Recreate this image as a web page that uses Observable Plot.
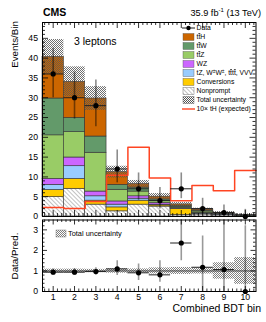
<!DOCTYPE html>
<html><head><meta charset="utf-8">
<script src="https://cdn.jsdelivr.net/npm/d3@7"></script>
<script src="https://cdn.jsdelivr.net/npm/@observablehq/plot@0.6"></script>
<style>
body{margin:0;background:#fff;}
#wrap{position:relative;width:266px;height:322px;overflow:hidden;}
#wrap svg{position:absolute;left:0;}
</style></head><body>
<svg width="0" height="0" style="position:absolute">
<defs>
<pattern id="hatch" width="3" height="3" patternUnits="userSpaceOnUse" patternTransform="rotate(-45)">
<rect width="3" height="3" fill="#fff"/><line x1="0" y1="0" x2="0" y2="3" stroke="#666" stroke-width="0.8"/>
</pattern>
<pattern id="checker" width="2" height="2" patternUnits="userSpaceOnUse">
<rect x="0" y="0" width="1" height="1" fill="#555"/><rect x="1" y="1" width="1" height="1" fill="#555"/>
</pattern>
</defs>
</svg>
<div id="wrap"></div>
<script>
const FONT = "'Liberation Sans', Arial, Helvetica, sans-serif";

// ---------- data ----------
const bins = [1, 2, 3, 4, 5, 6, 7, 8, 9, 10];
const procNames = ["Nonprompt", "Conversions", "tZ, W±W±, tttt, VVV", "WZ", "ttZ", "ttW", "ttH"];
const procColors = ["url(#hatch)", "#ffcc00", "#99ccff", "#cc66ff", "#99cc66", "#639a6a", "#cc6600"];
const nonprompt   = [4.9, 7.0, 3.0, 1.3, 3.0, 2.5, 0.4, 0.5, 0.30, 0.10];
const conversions = [1.8, 2.5, 1.0, 1.0, 1.0, 0.3, 1.5, 0.15, 0.05, 0.02];
const rare        = [1.3, 3.2, 1.1, 0.7, 0.5, 0.2, 0.1, 0.15, 0.15, 0.05];
const wz          = [1.5, 2.2, 1.2, 0.8, 0.6, 0.4, 0.15, 0.1, 0.05, 0.02];
const ttz         = [11.0, 6.4, 9.8, 2.95, 1.2, 0.5, 0.3, 0.35, 0.10, 0.05];
const ttw         = [9.3, 3.6, 4.1, 1.25, 1.0, 0.4, 0.2, 0.25, 0.10, 0.05];
const tth         = [10.5, 9.1, 9.6, 3.2, 0.9, 0.7, 0.4, 0.3, 0.20, 0.12];
const totalUnc    = [4.4, 3.8, 3.0, 1.5, 0.9, 0.8, 0.5, 0.3, 0.3, 0.25];
const dataObs     = [36, 30, 28, 12, 7, 4, 7, 2, 1, 0];
const dataLo      = [30.0, 24.6, 22.7, 8.5, 4.1, 1.9, 4.5, 0.7, 0.2, 0];
const dataHi      = [42.5, 36.5, 34.5, 16.8, 11.0, 7.3, 11.0, 4.6, 2.9, 1.8];
const tH10        = [2.3, 2.0, 3.8, 10.4, 17.5, 9.7, 4.0, 7.8, 6.5, 11.6];
const ratioVal    = [0.94, 0.94, 0.97, 1.10, 0.91, 0.81, 2.36, 1.18, 1.07, 0];
const ratioLo     = [0.80, 0.78, 0.80, 0.78, 0.53, 0.45, 1.50, 0.0, 0.0, 0];
const ratioHi     = [1.10, 1.12, 1.16, 1.50, 1.34, 1.50, 3.8, 2.70, 3.8, 3.2];
const ratioUnc    = [0.09, 0.09, 0.08, 0.11, 0.10, 0.15, 0.17, 0.15, 0.40, 0.65];
const yTicksUpper = [0, 5, 10, 15, 20, 25, 30, 35, 40, 45];
const yTicksLower = [0, 1, 2, 3];
const xTickLabels = ["1", "2", "3", "4", "5", "6", "7", "8", "9", "10"];

// ---------- derived tables ----------
const series = [nonprompt, conversions, rare, wz, ttz, ttw, tth];
const stackRows = [];
procNames.forEach((p, j) => bins.forEach((b, i) => stackRows.push({bin: b, proc: p, v: series[j][i]})));
const totals = bins.map((b, i) => d3.sum(series, s => s[i]));
const obs = bins.map((b, i) => ({bin: b, n: dataObs[i], lo: dataLo[i], hi: dataHi[i],
  tot: totals[i], unc: totalUnc[i], r: ratioVal[i], rlo: ratioLo[i], rhi: ratioHi[i], runc: ratioUnc[i]}));
const stepPts = bins.map((b, i) => ({x: b - 0.5, y: tH10[i]})).concat([{x: bins[bins.length - 1] + 0.5, y: tH10[tH10.length - 1]}]);

// ---------- layout ----------
const W = 266, ML = 42, MR = 10.5;
const FW = W - ML - MR;
const xDom = [0.5, 10.5];
const xMinor = d3.range(3, 53).map(k => k / 5).filter(v => Math.abs(v - Math.round(v)) > 1e-6);

function frameTicks(fh, yMaj, yMin, L, l) {
  const s = {stroke: "#000", strokeWidth: 0.8};
  return [
    Plot.tickY(yMaj, {y: d => d, insetRight: FW - L, ...s}),
    Plot.tickY(yMaj, {y: d => d, insetLeft: FW - L, ...s}),
    Plot.tickY(yMin, {y: d => d, insetRight: FW - l, ...s}),
    Plot.tickY(yMin, {y: d => d, insetLeft: FW - l, ...s}),
    Plot.tickX(bins, {x: d => d, insetTop: fh - L, ...s}),
    Plot.tickX(bins, {x: d => d, insetBottom: fh - L, ...s}),
    Plot.tickX(xMinor, {x: d => d, insetTop: fh - l, ...s}),
    Plot.tickX(xMinor, {x: d => d, insetBottom: fh - l, ...s}),
    Plot.frame({stroke: "#000", strokeWidth: 1})
  ];
}

const styleBase = {background: "transparent", fontFamily: FONT, fontSize: "8.7px", color: "#000"};

// upper panel: frame 22..216
const UH = 222, UMT = 22, UMB = 6;
const upper = Plot.plot({
  width: W, height: UH, marginTop: UMT, marginBottom: UMB, marginLeft: ML, marginRight: MR,
  style: styleBase,
  x: {domain: xDom, axis: null},
  y: {domain: [0, 49], ticks: yTicksUpper, tickFormat: d3.format("d"), tickSize: 0, tickPadding: 4.5, label: null},
  color: {domain: procNames, range: procColors},
  marks: [
    Plot.rectY(stackRows, {x1: d => d.bin - 0.5, x2: d => d.bin + 0.5, y: "v", z: "proc", fill: "proc",
      order: procNames, stroke: "#333", strokeWidth: 0.6}),
    Plot.rect(obs, {x1: d => d.bin - 0.5, x2: d => d.bin + 0.5, y1: d => d.tot - d.unc, y2: d => d.tot + d.unc,
      fill: "url(#checker)", fillOpacity: 0.85}),
    Plot.line(stepPts, {x: "x", y: "y", curve: "step-after", stroke: "#ff4422", strokeWidth: 1.5}),
    Plot.ruleX(obs, {x: "bin", y1: "lo", y2: "hi", stroke: "#000", strokeOpacity: 0.45, strokeWidth: 1.6}),
    Plot.ruleY(obs, {y: "n", x1: d => d.bin - 0.5, x2: d => d.bin + 0.5, stroke: "#222", strokeWidth: 1}),
    Plot.dot(obs, {x: "bin", y: "n", r: 2.6, fill: "#000", stroke: "none"}),
    ...frameTicks(UH - UMT - UMB, yTicksUpper, d3.range(0, 49).filter(v => v % 5 !== 0), 6, 3)
  ]
});

// lower panel: frame 219.5..291
const LT = 212, LH = 110, LMT = 7.5, LMB = 31;
const lower = Plot.plot({
  width: W, height: LH, marginTop: LMT, marginBottom: LMB, marginLeft: ML, marginRight: MR,
  style: styleBase,
  x: {domain: xDom, ticks: bins, tickFormat: (d, i) => xTickLabels[i], tickSize: 0, tickPadding: 2.5, label: null},
  y: {domain: [0, 3.48], ticks: yTicksLower, tickFormat: d3.format("d"), tickSize: 0, tickPadding: 4.5, label: null},
  marks: [
    Plot.rect(obs, {x1: d => d.bin - 0.5, x2: d => d.bin + 0.5, y1: d => 1 - d.runc, y2: d => 1 + d.runc,
      fill: "url(#checker)", fillOpacity: 0.75}),
    Plot.ruleY([1], {stroke: "#444", strokeWidth: 1}),
    Plot.ruleX(obs, {x: "bin", y1: "rlo", y2: "rhi", stroke: "#000", strokeOpacity: 0.4, strokeWidth: 1.6, clip: true}),
    Plot.ruleY(obs, {y: "r", x1: d => d.bin - 0.5, x2: d => d.bin + 0.5, stroke: "#222", strokeWidth: 1}),
    Plot.dot(obs, {x: "bin", y: "r", r: 2.6, fill: "#000", stroke: "none"}),
    ...frameTicks(LH - LMT - LMB, yTicksLower, d3.range(1, 18).map(k => k / 5).filter(v => Math.abs(v - Math.round(v)) > 1e-6), 5, 2.5)
  ]
});

const wrap = document.getElementById("wrap");
lower.style.top = LT + "px";
upper.style.top = "0px";
wrap.appendChild(lower);
wrap.appendChild(upper);

// ---------- annotations & legends ----------
const ov = d3.select(wrap).append("svg").attr("width", W).attr("height", 322)
  .style("top", "0px").attr("font-family", FONT).attr("fill", "#000");

ov.append("text").attr("x", 43).attr("y", 15.5).attr("font-size", 10.5).attr("font-weight", "bold").text("CMS");
const lumi = ov.append("text").attr("x", 261).attr("y", 15.5).attr("font-size", 9.2).attr("text-anchor", "end");
lumi.append("tspan").text("35.9 fb");
lumi.append("tspan").attr("dy", -3.2).attr("font-size", 6).text("-1");
lumi.append("tspan").attr("dy", 3.2).text(" (13 TeV)");
ov.append("text").attr("x", 74).attr("y", 44.5).attr("font-size", 10.5).text("3 leptons");
ov.append("text").attr("transform", "translate(18,21) rotate(-90)").attr("text-anchor", "end").attr("font-size", 9.8).text("Events/Bin");
ov.append("text").attr("transform", "translate(18,256) rotate(-90)").attr("text-anchor", "middle").attr("font-size", 9.8).text("Data/Pred.");
ov.append("text").attr("x", 261).attr("y", 312).attr("text-anchor", "end").attr("font-size", 10.5).text("Combined BDT bin");

// legend (upper)
const legendLabels = [
  [["Data"]],
  [["t"], ["t", "o"], ["H"]],
  [["t"], ["t", "o"], ["W"]],
  [["t"], ["t", "o"], ["Z"]],
  [["WZ"]],
  [["tZ, W"], ["±", "s"], ["W"], ["±", "s"], [", t"], ["t", "o"], ["t"], ["t", "o"], [", VVV"]],
  [["Conversions"]],
  [["Nonprompt"]],
  [["Total uncertainty"]],
  [["10× tH (expected)"]]
];
const legendKinds = ["data", "box", "box", "box", "box", "box", "box", "box", "box", "line"];
const legendFills = [null, procColors[6], procColors[5], procColors[4], procColors[3], procColors[2], procColors[1], procColors[0], "url(#checker)", null];
const LX = 183, LW = 11, ROW0 = 28, ROWSTEP = 9;
legendLabels.forEach((segs, i) => {
  const cy = ROW0 + i * ROWSTEP;
  const k = legendKinds[i];
  if (k === "data") {
    ov.append("line").attr("x1", LX - 1).attr("x2", LX + LW + 1).attr("y1", cy).attr("y2", cy).attr("stroke", "#000").attr("stroke-width", 0.9);
    ov.append("circle").attr("cx", LX + LW / 2).attr("cy", cy).attr("r", 2.2);
  } else if (k === "line") {
    ov.append("line").attr("x1", LX - 1).attr("x2", LX + LW + 1).attr("y1", cy).attr("y2", cy).attr("stroke", "#ff4422").attr("stroke-width", 1.4);
  } else {
    ov.append("rect").attr("x", LX).attr("y", cy - 3.5).attr("width", LW).attr("height", 7)
      .attr("fill", legendFills[i]).attr("stroke", "#555").attr("stroke-width", 0.4);
  }
  const t = ov.append("text").attr("x", LX + LW + 2.5).attr("y", cy + 2.3).attr("font-size", 6.8);
  let shifted = false;
  segs.forEach(([s, f]) => {
    const ts = t.append("tspan").text(s);
    if (f === "o") ts.style("text-decoration", "overline");
    if (f === "s") { ts.attr("dy", shifted ? 0 : -2.3).attr("font-size", 4.8); shifted = true; }
    else if (shifted) { ts.attr("dy", 2.3); shifted = false; }
  });
});

// legend (ratio)
ov.append("rect").attr("x", 56).attr("y", 230).attr("width", 10).attr("height", 7)
  .attr("fill", "url(#checker)").attr("fill-opacity", 0.75).attr("stroke", "#666").attr("stroke-width", 0.4);
ov.append("text").attr("x", 68).attr("y", 236).attr("font-size", 7.4).text("Total uncertainty");
</script>
</body></html>
